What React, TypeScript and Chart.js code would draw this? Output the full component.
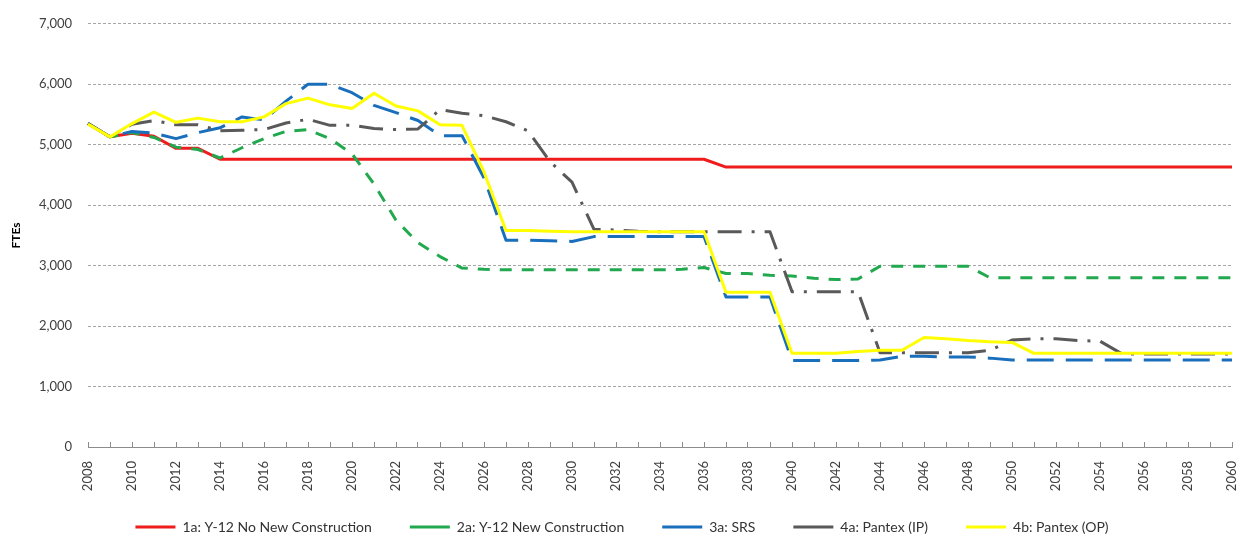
import React, { useEffect, useRef } from "react";
import { Chart, registerables } from "chart.js";

Chart.register(...registerables);

const years: string[] = [
  "2008","2009","2010","2011","2012","2013","2014","2015","2016","2017",
  "2018","2019","2020","2021","2022","2023","2024","2025","2026","2027",
  "2028","2029","2030","2031","2032","2033","2034","2035","2036","2037",
  "2038","2039","2040","2041","2042","2043","2044","2045","2046","2047",
  "2048","2049","2050","2051","2052","2053","2054","2055","2056","2057",
  "2058","2059","2060",
];

const seriesNames: string[] = [
  "1a: Y-12 No New Construction",
  "2a: Y-12 New Construction",
  "3a: SRS",
  "4a: Pantex (IP)",
  "4b: Pantex (OP)",
];

const y12NoNew: number[] = [
  5350, 5130, 5190, 5140, 4940, 4940, 4760, 4760, 4760, 4760,
  4760, 4760, 4760, 4760, 4760, 4760, 4760, 4760, 4760, 4760,
  4760, 4760, 4760, 4760, 4760, 4760, 4760, 4760, 4760, 4630,
  4630, 4630, 4630, 4630, 4630, 4630, 4630, 4630, 4630, 4630,
  4630, 4630, 4630, 4630, 4630, 4630, 4630, 4630, 4630, 4630,
  4630, 4630, 4630,
];

const y12New: number[] = [
  5350, 5130, 5200, 5120, 4960, 4920, 4780, 4950, 5100, 5220,
  5250, 5100, 4850, 4350, 3750, 3380, 3150, 2960, 2940, 2930,
  2930, 2930, 2930, 2930, 2930, 2930, 2930, 2940, 2970, 2870,
  2870, 2840, 2830, 2790, 2770, 2780, 2990, 2990, 2990, 2990,
  2990, 2800, 2800, 2800, 2800, 2800, 2800, 2800, 2800, 2800,
  2800, 2800, 2800,
];

const srs: number[] = [
  5350, 5130, 5220, 5190, 5100, 5200, 5280, 5460, 5410, 5720,
  6000, 6000, 5860, 5650, 5530, 5400, 5150, 5150, 4450, 3420,
  3420, 3410, 3400, 3480, 3480, 3480, 3480, 3480, 3480, 2480,
  2480, 2480, 1430, 1430, 1430, 1430, 1440, 1500, 1500, 1490,
  1490, 1470, 1440, 1440, 1440, 1440, 1440, 1440, 1440, 1440,
  1440, 1440, 1440,
];

const pantexIP: number[] = [
  5350, 5130, 5340, 5400, 5330, 5330, 5230, 5240, 5250, 5360,
  5420, 5320, 5320, 5270, 5250, 5260, 5580, 5520, 5480, 5380,
  5230, 4720, 4380, 3600, 3590, 3570, 3560, 3560, 3560, 3560,
  3560, 3560, 2570, 2570, 2570, 2570, 1560, 1560, 1560, 1560,
  1560, 1600, 1770, 1790, 1790, 1760, 1750, 1540, 1540, 1540,
  1540, 1540, 1540,
];

const pantexOP: number[] = [
  5340, 5130, 5350, 5540, 5370, 5440, 5380, 5380, 5460, 5680,
  5770, 5660, 5600, 5850, 5640, 5560, 5330, 5320, 4550, 3580,
  3580, 3570, 3560, 3560, 3560, 3560, 3560, 3560, 3560, 2560,
  2560, 2560, 1550, 1550, 1550, 1580, 1600, 1600, 1810, 1790,
  1760, 1740, 1730, 1550, 1550, 1550, 1550, 1550, 1550, 1550,
  1550, 1550, 1550,
];

const yTickValues: number[] = [0, 1000, 2000, 3000, 4000, 5000, 6000, 7000];

const legendShift = {
  id: "legendShift",
  afterLayout(chart: any) {
    const lg = chart.legend;
    if (lg) {
      lg.top -= 13;
      lg.bottom -= 13;
      lg.left += 6;
      lg.right += 6;
    }
  },
};

export default function App() {
  const canvasRef = useRef<HTMLCanvasElement | null>(null);

  useEffect(() => {
    const canvas = canvasRef.current;
    if (!canvas) return;
    Chart.defaults.font.family = "Lato, 'Open Sans', sans-serif";
    const mk = (i: number, data: number[], color: string, dash: number[], order: number) => ({
      label: seriesNames[i],
      data,
      borderColor: color,
      backgroundColor: color,
      borderWidth: 3,
      borderDash: dash,
      pointRadius: 0,
      pointHoverRadius: 0,
      tension: 0,
      fill: false,
      order,
      borderJoinStyle: "round" as const,
    });
    const chart = new Chart(canvas, {
      type: "line",
      data: {
        labels: years,
        datasets: [
          mk(0, y12NoNew, "#ee1c1c", [], 4),
          mk(1, y12New, "#22a94f", [12, 10], 3),
          mk(2, srs, "#1a6fbc", [27, 12], 2),
          mk(3, pantexIP, "#595959", [24, 10, 3, 10], 1),
          mk(4, pantexOP, "#ffff00", [], 0),
        ],
      },
      plugins: [legendShift],
      options: {
        animation: false,
        responsive: true,
        maintainAspectRatio: false,
        layout: { padding: { left: 0, right: 14, top: 14, bottom: -18 } },
        plugins: {
          tooltip: { enabled: false },
          legend: {
            position: "bottom",
            labels: {
              usePointStyle: true,
              pointStyle: "line",
              pointStyleWidth: 40,
              padding: 38,
              color: "#333333",
              font: { size: 14 },
              sort: (a: any, b: any) => a.datasetIndex - b.datasetIndex,
            },
          },
        },
        scales: {
          x: {
            type: "category",
            offset: false,
            grid: {
              drawOnChartArea: false,
              drawTicks: true,
              tickLength: -5,
              tickColor: "#8c8c8c",
              tickWidth: 1,
            },
            border: { display: true, color: "#8c8c8c", width: 1 },
            ticks: {
              autoSkip: false,
              minRotation: 90,
              maxRotation: 90,
              padding: 19,
              color: "#404040",
              font: { size: 13 },
              callback: (_v: any, idx: number) => (idx % 2 === 0 ? years[idx] : ""),
            },
            afterFit: (s: any) => {
              s.height = 48;
              s.paddingLeft = 0;
              s.paddingRight = 0;
            },
          },
          y: {
            min: 0,
            max: 7000,
            afterBuildTicks: (s: any) => {
              s.ticks = yTickValues.map((v) => ({ value: v }));
            },
            grid: { color: "#a6a6a6", lineWidth: 1, drawTicks: false },
            border: { display: false, dash: [3, 2] },
            ticks: {
              padding: 16,
              color: "#404040",
              font: { size: 13 },
              callback: (v: any) => Number(v).toLocaleString("en-US"),
            },
            title: {
              display: true,
              text: "FTEs",
              color: "#000000",
              font: { size: 12, weight: "bold" },
              padding: { top: 9, bottom: 0 },
            },
            afterFit: (s: any) => {
              s.width = 88;
            },
          },
        },
      },
    });
    return () => chart.destroy();
  }, []);

  return (
    <div style={{ position: "absolute", left: 0, top: 0, width: 1246, height: 539, background: "#ffffff" }}>
      <canvas ref={canvasRef} />
    </div>
  );
}
